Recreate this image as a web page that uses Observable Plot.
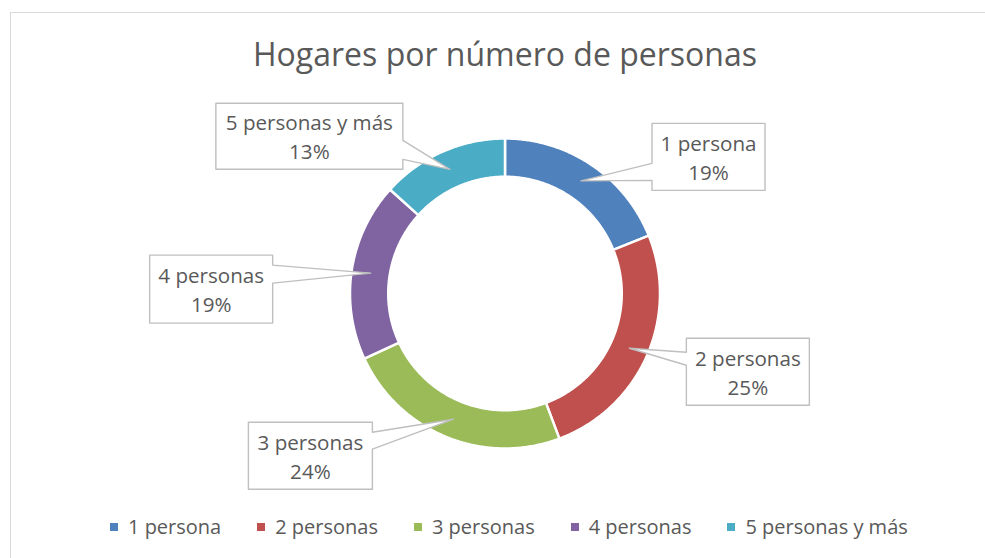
<!DOCTYPE html>
<html><head><meta charset="utf-8">
<script src="https://cdn.jsdelivr.net/npm/d3@7"></script>
<script src="https://cdn.jsdelivr.net/npm/@observablehq/plot@0.6"></script>
<style>
html,body{margin:0;padding:0;background:#fff;width:985px;height:558px;overflow:hidden;}
#frame{position:absolute;left:10px;top:12px;width:1000px;height:600px;border-top:1px solid #d9d9d9;border-left:1px solid #d9d9d9;box-sizing:border-box;}
#title{position:absolute;left:0;top:32px;width:1010px;text-align:center;font-family:"Open Sans",sans-serif;font-size:32px;line-height:44px;color:#595959;}
#chart{position:absolute;left:0;top:80px;}
#legend{position:absolute;left:110px;top:510px;width:900px;}
.lg-swatch{margin-right:36px !important;}
</style></head><body>
<div id="frame"></div>
<div id="title"></div>
<div id="chart"></div>
<div id="legend"></div>
<script>
// ---- data ----
const titleText = "Hogares por número de personas";
const categories = ["1 persona", "2 personas", "3 personas", "4 personas", "5 personas y más"];
const shares = [18.9, 25.4, 23.8, 18.6, 13.3];
const colors = ["#4F81BD", "#C0504D", "#9BBB59", "#8064A2", "#4BACC6"];

// ---- layout (px units relative to donut centre, y up) ----
const W = 985, H = 430, SVG_TOP = 80;
const CX = 504.5, CY = 293;            // donut centre on the page
const R_OUT = 155, R_IN = 116.75, R_MID = (R_OUT + R_IN) / 2;
// callout box: offset of box centre from tip (page px, y down), size, pointer side and base (relative to box centre y)
const calloutLayout = [
  {dx: 127.5, dy: -24,  w: 113, h: 67, side: "left",  b0: 6.5,  b1: 23.5},
  {dx: 118.5, dy: 23.5, w: 123, h: 67, side: "left",  b0: -19.5, b1: -6.5},
  {dx: -143,  dy: 36.5, w: 124, h: 67, side: "right", b0: -23.5, b1: -6.5},
  {dx: -159.5, dy: 16,  w: 123, h: 68, side: "right", b0: -24,  b1: -6},
  {dx: -140.5, dy: -33, w: 187, h: 66, side: "right", b0: 4,    b1: 23}
];

document.getElementById("title").textContent = titleText;

// ---- geometry from data ----
const total = d3.sum(shares);
let acc = 0;
const slices = categories.map((c, i) => {
  const a0 = acc / total * 2 * Math.PI;
  acc += shares[i];
  const a1 = acc / total * 2 * Math.PI;
  return {category: c, a0, a1, value: shares[i]};
});

const ringPts = [];
for (const s of slices) {
  const n = Math.max(8, Math.ceil((s.a1 - s.a0) / (Math.PI / 360)));
  const pts = [];
  for (let k = 0; k <= n; k++) { const a = s.a0 + (s.a1 - s.a0) * k / n; pts.push([R_OUT * Math.sin(a), R_OUT * Math.cos(a)]); }
  for (let k = n; k >= 0; k--) { const a = s.a0 + (s.a1 - s.a0) * k / n; pts.push([R_IN * Math.sin(a), R_IN * Math.cos(a)]); }
  pts.push(pts[0]);
  for (const p of pts) ringPts.push({category: s.category, x: p[0], y: p[1]});
}

const calloutPts = [];
const labels = [];
slices.forEach((s, i) => {
  const L = calloutLayout[i];
  const am = (s.a0 + s.a1) / 2;
  const tx = R_MID * Math.sin(am), ty = R_MID * Math.cos(am);  // y up
  const cx = tx + L.dx, cy = ty - L.dy;
  const l = cx - L.w / 2, r = cx + L.w / 2, t = cy + L.h / 2, b = cy - L.h / 2;
  const y0 = cy - L.b0, y1 = cy - L.b1;
  let pts;
  if (L.side === "left") pts = [[l, t], [r, t], [r, b], [l, b], [l, y1], [tx, ty], [l, y0], [l, t]];
  else pts = [[l, t], [r, t], [r, y0], [tx, ty], [r, y1], [r, b], [l, b], [l, t]];
  for (const p of pts) calloutPts.push({category: s.category, x: p[0], y: p[1]});
  labels.push({category: s.category, x: cx, y: cy, pct: Math.round(s.value / total * 100) + "%"});
});

const font = "Open Sans";
const plot = Plot.plot({
  width: W, height: H, margin: 0,
  x: {domain: [-CX, W - CX], axis: null},
  y: {domain: [CY - (SVG_TOP + H), CY - SVG_TOP], axis: null},
  color: {domain: categories, range: colors},
  style: {background: "transparent", overflow: "visible"},
  marks: [
    Plot.line(ringPts, {x: "x", y: "y", z: "category", fill: "category", stroke: "white", strokeWidth: 2.5, curve: "linear"}),
    Plot.line(calloutPts, {x: "x", y: "y", z: "category", fill: "white", stroke: "#bfbfbf", strokeWidth: 1.4, curve: "linear"}),
    Plot.text(labels, {x: "x", y: "y", text: "category", dy: -12.5, fontSize: 20.6, fontFamily: font, fill: "#595959"}),
    Plot.text(labels, {x: "x", y: "y", text: "pct", dy: 16.5, fontSize: 20.6, fontFamily: font, fill: "#595959"})
  ]
});
document.getElementById("chart").appendChild(plot);

const lg = Plot.legend({
  color: {domain: categories, range: colors, type: "ordinal"},
  legend: "swatches",
  swatchSize: 8,
  className: "lg",
  style: {fontSize: "20px", fontFamily: font, color: "#595959", margin: "0"}
});
document.getElementById("legend").appendChild(lg);
</script>
</body></html>
